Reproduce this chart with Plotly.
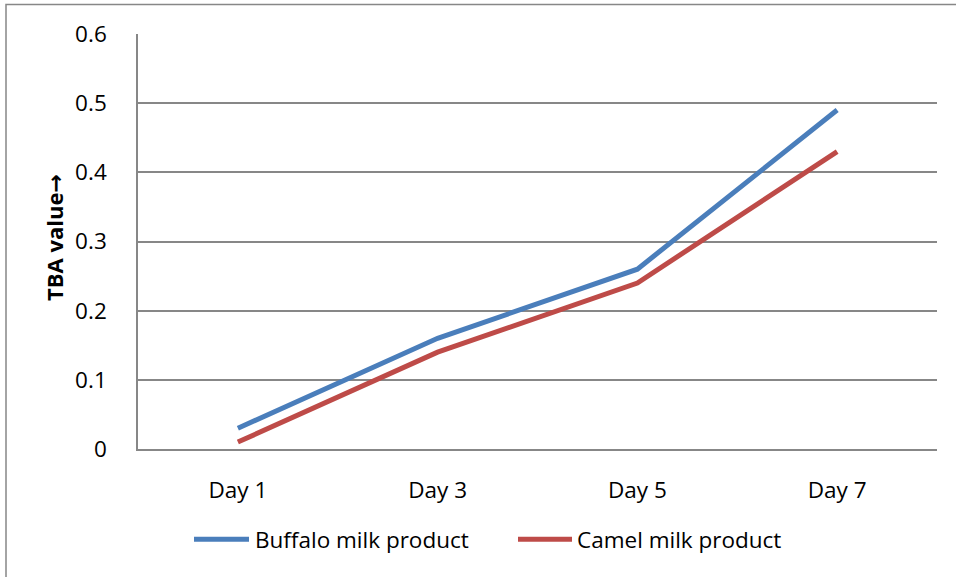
import plotly.graph_objects as go

# TBA values measured over storage days
days = ["Day 1", "Day 3", "Day 5", "Day 7"]
buffalo = [0.03, 0.16, 0.26, 0.49]
camel = [0.01, 0.14, 0.24, 0.43]
series_names = ["Buffalo milk product", "Camel milk product"]
series_colors = ["#4A7EBB", "#BE4B48"]
y_ticks = [0, 0.1, 0.2, 0.3, 0.4, 0.5, 0.6]

W, H = 956, 577
L, R, T, B = 138, 937, 33.5, 449.5
FONT = "Open Sans"
FS = 22.5
GRID = "#878787"


def px_x(x):
    return (x - L) / (R - L)


def px_y(y):
    return (B - y) / (B - T)


fig = go.Figure()
for name, vals, col in zip(series_names, [buffalo, camel], series_colors):
    fig.add_trace(go.Scatter(
        x=days, y=vals, mode="lines", name=name,
        line=dict(color=col, width=5), showlegend=False,
    ))

shapes = [
    # outer chart frame
    dict(type="rect", xref="paper", yref="paper",
         x0=px_x(6), x1=px_x(960), y0=px_y(4), y1=px_y(600),
         line=dict(color=GRID, width=1.5), layer="below"),
]
annotations = [
    dict(text="<b>TBA value<span style='font-family:DejaVu Sans'>\u2192</span></b>",
         xref="paper", yref="paper",
         x=px_x(54), y=px_y(238), xanchor="center", yanchor="middle",
         textangle=-90, showarrow=False,
         font=dict(family=FONT, size=22, color="black")),
]

# legend drawn as line samples and labels under the plot
legend_items = [(194, 249, 253), (518, 572, 575)]
for (x0, x1, tx), name, col in zip(legend_items, series_names, series_colors):
    shapes.append(dict(type="line", xref="paper", yref="paper",
                       x0=px_x(x0), x1=px_x(x1), y0=px_y(540), y1=px_y(540),
                       line=dict(color=col, width=5)))
    annotations.append(dict(text=name, xref="paper", yref="paper",
                            x=px_x(tx), y=px_y(540), xanchor="left",
                            yanchor="middle", showarrow=False,
                            font=dict(family=FONT, size=FS, color="black")))

fig.update_layout(
    width=W, height=H,
    margin=dict(l=L, r=W - R, t=T, b=H - B, pad=0),
    paper_bgcolor="white", plot_bgcolor="white",
    font=dict(family=FONT, size=FS, color="black"),
    shapes=shapes, annotations=annotations,
    xaxis=dict(
        type="category", range=[-0.5, 3.5], showgrid=False,
        showline=True, linecolor=GRID, linewidth=1.5,
        ticks="", ticklabelstandoff=20,
        tickfont=dict(family=FONT, size=FS, color="black"),
    ),
    yaxis=dict(
        range=[0, 0.6], tickvals=y_ticks,
        ticktext=[("%g" % v) for v in y_ticks],
        showgrid=True, gridcolor=GRID, gridwidth=1.5,
        showline=True, linecolor=GRID, linewidth=1.5, zeroline=False,
        ticks="", ticklabelstandoff=25,
        tickfont=dict(family=FONT, size=FS, color="black"),
    ),
)

fig.write_html("out.html")
